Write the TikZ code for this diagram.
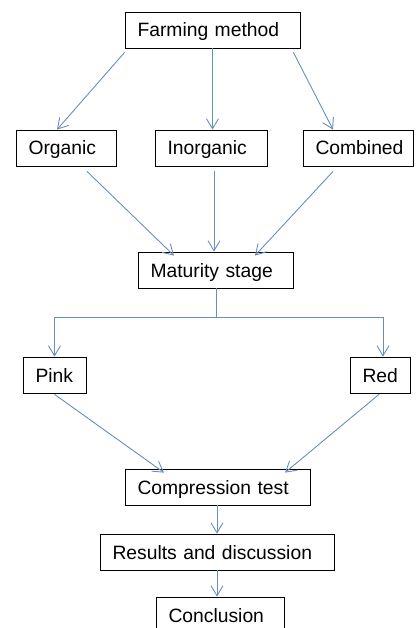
\documentclass[tikz,border=0pt]{standalone}
\usepackage{fontspec}
\setmainfont{Liberation Sans}
\usepackage{xcolor}
\usetikzlibrary{arrows.meta}
\definecolor{linkblue}{RGB}{104,142,192}

\begin{document}
\begin{tikzpicture}[x=1pt, y=-1pt,
    box/.style={draw=black, line width=0.8pt, inner xsep=12.5pt, inner ysep=0pt,
      text height=16pt, text depth=2pt,
      minimum height=36pt, align=left, font=\fontsize{19.3}{23}\selectfont},
    link/.style={draw=linkblue, line width=0.9pt,
      -{Straight Barb[length=10pt, width=12pt]}}]
  \useasboundingbox (0,0) rectangle (415,628);
  % topo
  \node[box, text width=150pt] (farm) at (212.5,30) {Farming method};
  % metodos
  \node[box, text width=75pt] (org) at (66,148) {Organic};
  \node[box, text width=87pt] (inorg) at (211,148) {Inorganic};
  \node[box, text width=85pt] (comb) at (358,148) {Combined};
  % maturidade
  \node[box, text width=130pt] (mat) at (215.5,270) {Maturity stage};
  \node[box, text width=38pt] (pink) at (54.5,375) {Pink};
  \node[box, text width=35pt] (red) at (380,375) {Red};
  % ensaio e fim
  \node[box, text width=160pt] (comp) at (217.5,487) {Compression test};
  \node[box, text width=209pt] (res) at (217,552) {Results and discussion};
  \node[box, text width=103pt] (conc) at (220,615) {Conclusion};
  % setas do topo
  \draw[link] ([yshift=-4pt]farm.south west) -- ([xshift=-9pt]org.north);
  \draw[link] (farm.south) -- (farm.south |- inorg.north);
  \draw[link] ([xshift=-7pt, yshift=-4pt]farm.south east) -- ([xshift=-25pt]comb.north);
  % setas para maturidade
  \draw[link] ([xshift=21pt, yshift=-5pt]org.south) -- ([xshift=-41.5pt, yshift=-4pt]mat.north);
  \draw[link] ([xshift=3pt, yshift=-5pt]inorg.south) -- ([xshift=-1.5pt]mat.north);
  \draw[link] ([xshift=-25pt, yshift=-5pt]comb.south) -- ([xshift=39.5pt, yshift=-4pt]mat.north);
  % ramos
  \coordinate (split) at (216,317);
  \draw[linkblue, line width=0.9pt] ([xshift=0.5pt]mat.south) -- (split);
  \draw[link] (split) -| (pink.north);
  \draw[link] (split) -| ([xshift=3pt]red.north);
  % setas para o ensaio
  \draw[link] ([yshift=-1pt]pink.south) -- ([xshift=-53.5pt, yshift=-4pt]comp.north);
  \draw[link] ([xshift=-1pt, yshift=-1pt]red.south) -- ([xshift=67.5pt, yshift=-4pt]comp.north);
  \draw[link] ([xshift=-0.5pt]comp.south) -- ([xshift=-0.5pt]comp.south |- res.north);
  \draw[link] (res.south) -- (res.south |- conc.north);
\end{tikzpicture}
\end{document}
